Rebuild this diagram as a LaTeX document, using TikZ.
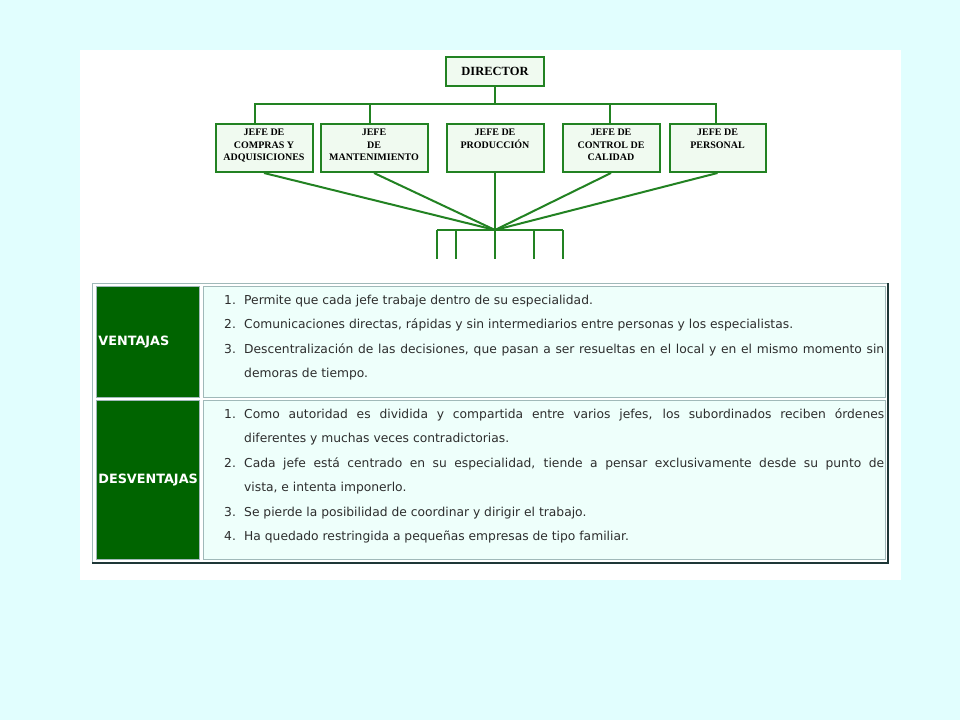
\documentclass[tikz,border=0pt]{standalone}
\usepackage{fontspec}
\newfontfamily\orgfont{Liberation Serif}
\newfontfamily\tabfont{DejaVu Sans}
\usepackage{xcolor}
\usetikzlibrary{positioning}

\definecolor{fondo}{RGB}{225,254,254}
\definecolor{verdeorg}{RGB}{34,130,34}
\definecolor{rellenojefe}{RGB}{240,250,240}
\definecolor{verdeosc}{RGB}{0,100,0}
\definecolor{rellenocelda}{RGB}{238,255,251}
\definecolor{bordecelda}{RGB}{160,185,185}
\definecolor{bordeosc}{RGB}{30,55,55}
\definecolor{textogris}{RGB}{45,45,45}

\tikzset{
  link/.style={draw=verdeorg, line width=2pt},
  jefe/.style={draw=verdeorg, fill=rellenojefe, line width=2pt, inner xsep=2pt, inner ysep=5pt,
    font=\orgfont\bfseries\fontsize{10}{12.5}\selectfont},
  cabecera/.style={fill=verdeosc, draw=bordecelda, line width=0.8pt, text=white, anchor=north west,
    font=\tabfont\bfseries\fontsize{12.8}{15}\selectfont, inner xsep=2pt, text width=99pt, align=left},
  celda/.style={fill=rellenocelda, draw=bordecelda, line width=0.8pt, minimum width=682pt, anchor=north west},
  lista/.style={inner sep=0pt, anchor=base west, text=textogris,
    font=\tabfont\fontsize{12.3}{24.5}\selectfont}
}

\newcommand{\jefetexto}[2]{\parbox[c][38pt][t]{#1}{\centering #2}}
\newcommand{\punto}[1]{\par\hangindent=20pt\hangafter=1\noindent\makebox[20pt][l]{#1}}

\begin{document}
\begin{tikzpicture}[x=1pt, y=-1pt]
        \fill[fondo] (0,0) rectangle (960,720);
        \useasboundingbox (0,0) rectangle (960,720);
        \fill[white] (80,50) rectangle (901,580);

        % organigrama
        \node[jefe, minimum width=98pt, minimum height=29pt, font=\orgfont\bfseries\fontsize{12.5}{14}\selectfont]
            (director) at (495,71.5) {DIRECTOR};
        \node[jefe] (produccion) [below=36pt of director] {\jefetexto{93pt}{JEFE DE\\PRODUCCIÓN}};
        \node[jefe] (mantenimiento) [left=17pt of produccion] {\jefetexto{103pt}{JEFE\\DE\\MANTENIMIENTO}};
        \node[jefe] (compras) [left=6pt of mantenimiento] {\jefetexto{93pt}{JEFE DE\\COMPRAS Y\\ADQUISICIONES}};
        \node[jefe] (calidad) [right=17pt of produccion] {\jefetexto{93pt}{JEFE DE\\CONTROL DE\\CALIDAD}};
        \node[jefe] (personal) [right=8pt of calidad] {\jefetexto{92pt}{JEFE DE\\PERSONAL}};

        \coordinate (bus) at (495,104);
        \coordinate (hub) at (495,230);
        \draw[link] (director.south) -- (bus);
        \draw[link] ([xshift=-9pt]compras.north) |- (bus);
        \draw[link] ([xshift=-4pt]mantenimiento.north) |- (bus);
        \draw[link] ([xshift=-1pt]calidad.north) |- (bus);
        \draw[link] ([xshift=-2pt]personal.north) |- (bus);

        \foreach \n in {compras,mantenimiento,produccion,calidad,personal}
            \draw[link] (\n.south) -- (hub);

        \foreach \x [count=\i] in {437,456,495,534,563}
            \coordinate (pie\i) at (\x,259);
        \draw[link] (pie1 |- hub) -- (pie5 |- hub);
        \foreach \i in {1,...,5}
            \draw[link] (pie\i |- hub) -- (pie\i);

        % tabla
        \filldraw[fill=white, draw=bordecelda] (92,283) rectangle (888,563);
        \draw[bordeosc, line width=2pt] (888,283) -- (888,563) -- (92,563);

        \node[cabecera, minimum height=111pt] (ventajas) at (96,286) {VENTAJAS};
        \node[celda, minimum height=111pt] (celdav) at (203,286) {};
        \node[cabecera, minimum height=159pt] (desventajas) at (96,400) {DESVENTAJAS};
        \node[celda, minimum height=159pt] (celdad) at (203,400) {};

        \node[lista] (listav) at (224,304) {\parbox[t]{660pt}{%
            \punto{1.}Permite que cada jefe trabaje dentro de su especialidad.
            \punto{2.}Comunicaciones directas, rápidas y sin intermediarios entre personas y los especialistas.
            \punto{3.}Descentralización de las decisiones, que pasan a ser resueltas en el local y en el mismo momento sin\linebreak demoras de tiempo.}};
        \node[lista] (listad) at (224,418) {\parbox[t]{660pt}{%
            \punto{1.}Como autoridad es dividida y compartida entre varios jefes, los subordinados reciben órdenes\linebreak diferentes y muchas veces contradictorias.
            \punto{2.}Cada jefe está centrado en su especialidad, tiende a pensar exclusivamente desde su punto de\linebreak vista, e intenta imponerlo.
            \punto{3.}Se pierde la posibilidad de coordinar y dirigir el trabajo.
            \punto{4.}Ha quedado restringida a pequeñas empresas de tipo familiar.}};
\end{tikzpicture}
\end{document}
